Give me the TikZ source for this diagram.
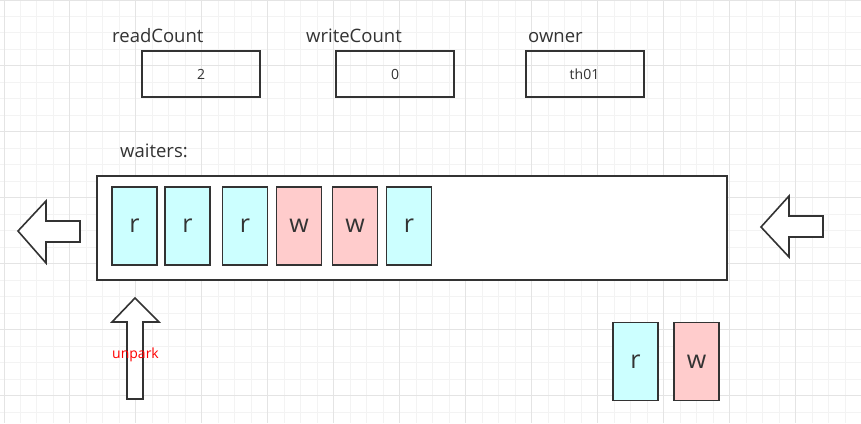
\documentclass[tikz,border=0pt]{standalone}
\usepackage{fontspec}
\setmainfont{Open Sans}
\usetikzlibrary{positioning}

\definecolor{readfill}{HTML}{CCFFFF}
\definecolor{writefill}{HTML}{FFCCCC}
\definecolor{edgegray}{HTML}{333333}
\definecolor{gridminor}{HTML}{F3F3F3}
\definecolor{gridmajor}{HTML}{E4E4E4}

\tikzset{
  field/.style={draw=edgegray, line width=2pt, minimum width=118pt, minimum height=46pt,
    inner sep=0pt, text=edgegray, font=\fontsize{14}{14}\selectfont},
  fieldname/.style={anchor=base west, inner sep=0pt, text=edgegray, font=\fontsize{18.5}{18.5}\selectfont},
  rnode/.style={draw=edgegray, line width=1.8pt, fill=readfill, minimum width=45pt, minimum height=78pt,
    inner sep=0pt, text=edgegray, font=\fontsize{25}{25}\selectfont},
  wnode/.style={rnode, fill=writefill},
  blockarrow/.style={draw=edgegray, line width=1.6pt, fill=white, line join=miter},
}

\begin{document}
\begin{tikzpicture}[x=1pt, y=-1pt]
        % Background and grid
        \useasboundingbox[fill=white] (0,0) rectangle (861,423);
        \foreach \k in {0,...,52}
          \draw[gridminor, line width=1pt] ({4+16.49*\k},0) -- ({4+16.49*\k},423);
        \foreach \k in {0,...,25}
          \draw[gridminor, line width=1pt] (0,{16.49*\k}) -- (861,{16.49*\k});
        \foreach \k in {0,4,...,52}
          \draw[gridmajor, line width=1pt] ({4+16.49*\k},0) -- ({4+16.49*\k},423);
        \foreach \k in {0,4,...,24}
          \draw[gridmajor, line width=1pt] (0,{16.49*\k}) -- (861,{16.49*\k});

        % Draw the counters
        \node[field] (readcount) at (201,74) {2};
        \node[field] (writecount) at (395,74) {0};
        \node[field] (owner) at (584.5,74) {th01};
        \node[fieldname] (readlabel) at (112,42.5) {readCount};
        \node[fieldname] (writelabel) at (306,42.5) {writeCount};
        \node[fieldname] (ownerlabel) at (528,42.5) {owner};

        % Draw the queue
        \node[fieldname] (waitlabel) at (120,157.5) {waiters:};
        \node[draw=edgegray, line width=2pt, fill=white, minimum width=630pt, minimum height=104pt,
          inner sep=0pt] (queue) at (412,228) {};
        \foreach \x/\t/\s [count=\i] in {134.5/r/rnode, 187.5/r/rnode, 245/r/rnode,
            299/w/wnode, 355/w/wnode, 409/r/rnode}
          \node[\s] (q\i) at (\x,226) {\t};

        % Threads still waiting outside
        \node[rnode] (newr) at (635.5,361.5) {r};
        \node[wnode] (neww) at (696.5,361.5) {w};

        % Block arrows
        \draw[blockarrow] (18,231) -- (46,201) -- (46,221) -- (80,221) -- (80,242)
          -- (46,242) -- (46,263) -- cycle;
        \draw[blockarrow] (761,227) -- (789,196) -- (789,216) -- (823,216) -- (823,237)
          -- (789,237) -- (789,257) -- cycle;
        \draw[blockarrow] (135,298) -- (159,322) -- (143,322) -- (143,399) -- (127,399)
          -- (127,322) -- (112,322) -- cycle;
        \node[anchor=base, inner sep=0pt, text=red, font=\fontsize{14}{14}\selectfont]
          (unpark) at (135.5,358) {unpark};

    \end{tikzpicture}
\end{document}
